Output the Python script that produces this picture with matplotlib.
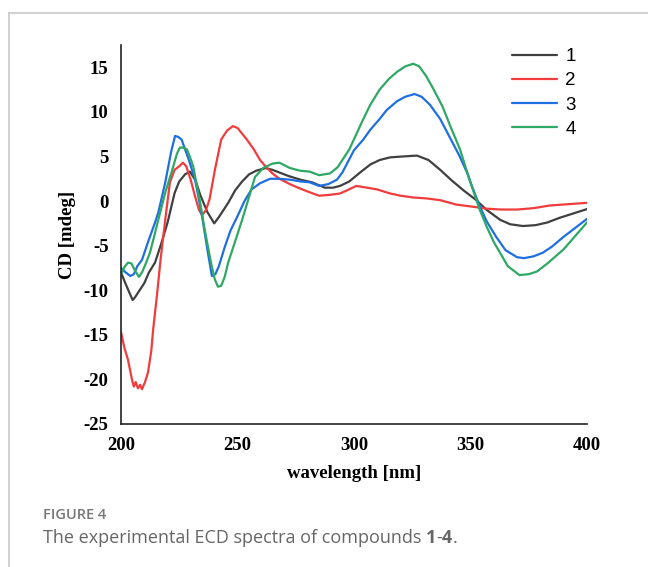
import numpy as np
import matplotlib
matplotlib.use('Agg')
import matplotlib.pyplot as plt
from matplotlib.lines import Line2D

# ECD spectra (wavelength nm, CD mdeg)
wl1 = [200, 202, 204, 205, 206, 208, 210, 212, 214.6, 217, 220, 223, 225, 227.5, 229.6, 232, 234, 237,
       240, 242, 246, 249, 252, 255, 258, 262, 265, 268, 272, 277, 282, 287.5, 291, 294, 298, 302.6, 307,
       311, 315.5, 321, 327, 332, 337, 342, 347, 352, 357, 362.7, 367, 372.5, 378, 383, 388, 394, 400]
cd1 = [-8.0, -9.3, -10.5, -11.1, -10.8, -10.0, -9.2, -8.0, -6.9, -5.0, -2.4, 0.9, 2.2, 3.0, 3.3, 2.3, 0.7, -1.2,
       -2.5, -1.8, -0.2, 1.2, 2.2, 3.0, 3.4, 3.7, 3.5, 3.2, 2.8, 2.4, 2.1, 1.5, 1.5, 1.7, 2.2, 3.2, 4.1,
       4.6, 4.9, 5.0, 5.1, 4.6, 3.5, 2.3, 1.2, 0.2, -1.0, -2.1, -2.6, -2.8, -2.7, -2.4, -1.9, -1.4, -0.9]

wl2 = [200, 201.5, 203, 204.7, 205.5, 206.3, 207.3, 208.2, 209, 210.3, 211.6, 213, 213.8, 215.5, 217, 218,
       219.5, 221, 223, 225, 226.6, 228, 230, 231.8, 233.5, 234.8, 236.5, 238, 240.3, 243, 245.5, 248, 250,
       254, 257, 259.7, 262, 265, 268, 272.5, 276, 279.8, 285, 289.7, 294, 297, 301, 305.6, 310, 315.5, 320,
       325.4, 331, 337, 344, 350, 357, 363, 370, 377, 384, 392, 400]
cd2 = [-14.7, -16.5, -17.8, -20.0, -20.8, -20.3, -21.0, -20.6, -21.1, -20.3, -19.2, -16.8, -14.4, -10.4, -6.5, -4.3,
       -1.0, 2.1, 3.5, 3.9, 4.3, 3.9, 2.3, 0.5, -1.0, -1.6, -1.0, 0.2, 3.5, 6.9, 7.9, 8.4, 8.2,
       6.9, 5.8, 4.6, 3.9, 3.1, 2.5, 1.9, 1.5, 1.1, 0.6, 0.7, 0.85, 1.2, 1.7, 1.5, 1.3, 0.85, 0.6,
       0.4, 0.3, 0.1, -0.4, -0.6, -0.85, -0.95, -0.95, -0.8, -0.5, -0.35, -0.2]

wl3 = [200, 202, 204, 205.5, 207, 209, 211.6, 214.6, 216, 219, 221.5, 223.2, 224.5, 226, 229, 231.8, 234.8,
       237.3, 239, 240.5, 242, 244.6, 247, 250, 253, 256, 259.7, 264, 268, 272.5, 277, 281, 285, 289, 292.7,
       295, 298, 300, 304, 307, 311, 314, 318.5, 322, 326, 329, 332.6, 337, 341, 345, 348.5, 351, 354, 357,
       361, 365, 370, 373, 377, 381, 385, 390, 395, 400]
cd3 = [-7.5, -8.0, -8.4, -8.2, -7.3, -6.6, -4.6, -2.4, -1.3, 2.1, 5.5, 7.3, 7.2, 6.9, 4.7, 2.4, -1.7,
       -5.8, -8.4, -8.2, -7.3, -5.1, -3.3, -1.7, 0.0, 1.3, 2.0, 2.5, 2.5, 2.4, 2.2, 2.1, 1.7, 1.9, 2.4,
       3.2, 4.7, 5.7, 6.9, 8.0, 9.2, 10.2, 11.2, 11.7, 12.0, 11.7, 10.8, 9.2, 7.2, 5.2, 3.2, 1.4, -0.6, -2.3,
       -4.0, -5.5, -6.3, -6.4, -6.2, -5.8, -5.1, -4.0, -3.0, -2.0]

wl4 = [200, 201.5, 203, 204.5, 206, 207.7, 209, 210.5, 212.4, 214, 216, 219, 222, 224, 225.3, 226.5, 228.3,
       229.5, 231, 232.5, 234, 235.5, 237.3, 239, 240.3, 241.6, 243, 244.5, 246, 249, 252, 255, 257.5, 261,
       265, 268, 272.5, 277, 281, 285, 289.7, 293, 298, 301, 304, 307, 311, 315, 318.5, 322, 325.4, 328, 331,
       334, 338, 341.5, 345.5, 348, 351, 354, 357, 360, 362.7, 366, 371, 375, 378.5, 383, 390, 395, 400]
cd4 = [-8.3, -7.4, -6.9, -7.0, -7.8, -8.5, -8.0, -7.1, -5.8, -4.2, -2.1, 0.95, 3.5, 5.3, 6.0, 6.0, 5.8,
       5.0, 3.9, 1.8, -0.2, -2.6, -5.1, -7.4, -8.8, -9.6, -9.5, -8.5, -6.9, -4.5, -2.1, 0.5, 2.7, 3.7,
       4.2, 4.3, 3.7, 3.4, 3.3, 2.9, 3.1, 3.8, 5.8, 7.5, 9.2, 10.8, 12.5, 13.7, 14.5, 15.1, 15.4, 15.1, 14.0,
       12.6, 10.6, 8.3, 5.8, 3.7, 1.3, -1.0, -2.9, -4.6, -5.8, -7.3, -8.3, -8.2, -7.9, -7.0, -5.4, -3.9, -2.4]

labels = ['1', '2', '3', '4']
colors = ['#404040', '#f03c3c', '#1f6fe0', '#2ea864']
x_ticks = [200, 250, 300, 350, 400]
y_ticks = [-25, -20, -15, -10, -5, 0, 5, 10, 15]

W, H = 648, 567
fig = plt.figure(figsize=(W / 100, H / 100), dpi=100)
ax = fig.add_axes([121 / W, 1 - 424 / H, 466 / W, 379 / H])

for wl, cd, lab, c in zip([wl1, wl2, wl3, wl4], [cd1, cd2, cd3, cd4], labels, colors):
    ax.plot(wl, cd, color=c, lw=1.6, label=lab, solid_capstyle='round', solid_joinstyle='round')

ax.set_xlim(200, 400)
ax.set_ylim(-25, 17.5)
ax.set_xticks(x_ticks)
ax.set_yticks(y_ticks)
serif = {'family': 'Liberation Serif', 'weight': 'bold', 'size': 13.5}
ax.set_xticklabels([str(t) for t in x_ticks], fontdict=serif)
ax.set_yticklabels([str(t) for t in y_ticks], fontdict=serif)
ax.tick_params(length=0, pad=9)
for s in ['top', 'right']:
    ax.spines[s].set_visible(False)
for s in ['left', 'bottom']:
    ax.spines[s].set_linewidth(1.2)
    ax.spines[s].set_color('#222222')

ax.set_xlabel('wavelength [nm]', fontdict=serif, va='center')
ax.set_ylabel('CD [mdeg]', fontdict=serif, va='center')
ax.xaxis.set_label_coords(0.5, (424 - 473) / 379)
ax.yaxis.set_label_coords((68 - 121) / 466, 0.5)

ax.legend(loc='upper left', bbox_to_anchor=(512 / W, 1 - 48 / H), bbox_transform=fig.transFigure,
          frameon=False, borderpad=0, borderaxespad=0, handlelength=2.4, handletextpad=0.45,
          labelspacing=0.38, prop={'family': 'Liberation Sans', 'size': 13.5})

# outer frame of the figure panel
frame_c = '#c8c8c8'
fig.add_artist(Line2D([9 / W, 1], [1 - 12.5 / H, 1 - 12.5 / H], color=frame_c, lw=1.2))
fig.add_artist(Line2D([9 / W, 9 / W], [0, 1 - 12.5 / H], color=frame_c, lw=1.2))

# caption
fig.text(43 / W, 1 - 515 / H, 'FIGURE 4', va='center', ha='left', fontsize=10.5,
         color='#777777', family='Open Sans', weight='semibold')
cap = {'fontsize': 13, 'color': '#666666', 'family': 'Open Sans'}
t = fig.text(43 / W, 1 - 543 / H, 'The experimental ECD spectra of compounds ', va='baseline', ha='left', **cap)
for piece, w in [('1', 'bold'), ('-', 'normal'), ('4', 'bold'), ('.', 'normal')]:
    t = ax.annotate(piece, xy=(1, 0), xycoords=t, va='bottom', ha='left', weight=w, **cap)

fig.savefig('out.png', dpi=100)
